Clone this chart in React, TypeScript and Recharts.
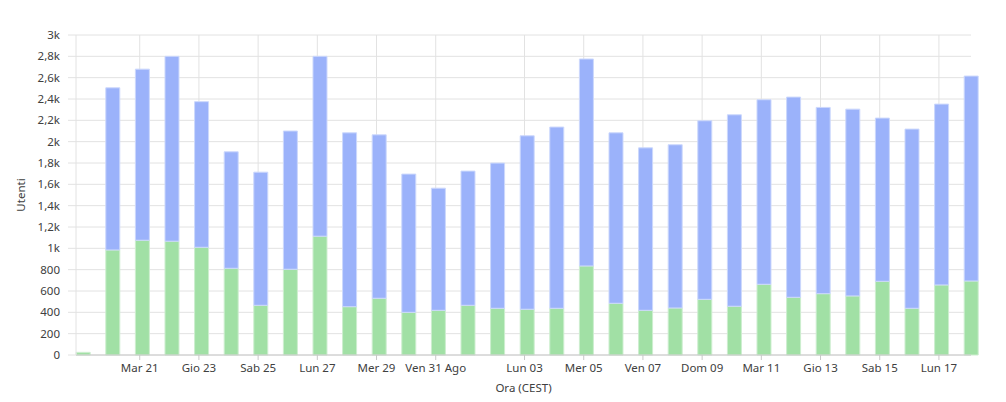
import React from 'react';
import { BarChart, Bar, XAxis, YAxis, CartesianGrid } from 'recharts';

// day index 0 = Dom 19 Ago 2018
const days = [0, 1, 2, 3, 4, 5, 6, 7, 8, 9, 10, 11, 12, 13, 14, 15, 16, 17, 18, 19, 20, 21, 22, 23, 24, 25, 26, 27, 28, 29, 30];
const greenValues = [25, 985, 1076, 1067, 1010, 813, 466, 804, 1114, 453, 532, 400, 419, 466, 438, 429, 438, 835, 485, 419, 441, 522, 457, 663, 541, 575, 554, 691, 438, 657, 694];
const blueValues = [0, 1520, 1604, 1733, 1365, 1092, 1248, 1296, 1686, 1630, 1532, 1296, 1145, 1258, 1361, 1626, 1699, 1940, 1598, 1523, 1530, 1674, 1795, 1730, 1877, 1746, 1751, 1530, 1680, 1695, 1921];

// x-axis ticks (midnight, 2h offset vs. CEST bar dates)
const tickDays = [2, 4, 6, 8, 10, 12, 15, 17, 19, 21, 23, 25, 27, 29];
const tickLabels = ['Mar 21', 'Gio 23', 'Sab 25', 'Lun 27', 'Mer 29', 'Ven 31 Ago', 'Lun 03', 'Mer 05', 'Ven 07', 'Dom 09', 'Mar 11', 'Gio 13', 'Sab 15', 'Lun 17'];
const tzShiftDays = 2 / 24;
const xDomain = [-0.236, 30];

const yTicks = [0, 200, 400, 600, 800, 1000, 1200, 1400, 1600, 1800, 2000, 2200, 2400, 2600, 2800, 3000];

const data = days.map((d, i) => ({ t: d, green: greenValues[i], blue: blueValues[i] }));
const xTicks = tickDays.map((d) => d - tzShiftDays);

const FONT = '"Noto Sans", sans-serif';
const FS = 11.5;
const TEXT = '#404040';
const GRID = '#e2e2e2';

const fmtY = (v: number) => (v < 1000 ? String(v) : String(v / 1000).replace('.', ',') + 'k');
const fmtX = (v: number) => {
  const idx = tickDays.indexOf(Math.round(v));
  return idx >= 0 ? tickLabels[idx] : '';
};

const verticalGen = (props: any) => {
  const xAxis = props.xAxis || {};
  const off = props.offset || {};
  if (xAxis.scale && typeof xAxis.scale === 'function') {
    return xTicks.map((t) => xAxis.scale(t));
  }
  if (xAxis.scale && typeof xAxis.scale.map === 'function') {
    return xTicks.map((t) => xAxis.scale.map(t));
  }
  return xTicks.map((t) => off.left + ((t - xDomain[0]) / (xDomain[1] - xDomain[0])) * off.width);
};

export default function App() {
  return (
    <div style={{ width: 990, height: 390 }}>
      <BarChart width={990} height={390} data={data} margin={{ top: 27, right: 27, left: 0, bottom: 0 }} barGap={0}>
        <CartesianGrid stroke={GRID} verticalCoordinatesGenerator={verticalGen} />
        <XAxis
          dataKey="t"
          type="number"
          domain={xDomain}
          ticks={xTicks}
          tickFormatter={fmtX}
          interval={0}
          height={43}
          tickSize={5}
          tickMargin={4}
          axisLine={{ stroke: '#c8c8c8' }}
          tickLine={{ stroke: '#c8c8c8' }}
          tick={{ fill: TEXT, fontSize: FS, fontFamily: FONT }}
          label={{
            content: (props: any) => {
              const vb = props.viewBox || {};
              return (
                <text x={vb.x + vb.width / 2} y={vb.y + 37} textAnchor="middle" fill={TEXT} fontSize={FS} fontFamily={FONT}>
                  Ora (CEST)
                </text>
              );
            },
          }}
        />
        <YAxis
          type="number"
          domain={[0, 3000]}
          ticks={yTicks}
          interval={0}
          width={68}
          tickSize={8}
          tickMargin={8}
          tickFormatter={fmtY}
          axisLine={{ stroke: GRID }}
          tickLine={{ stroke: GRID }}
          tick={{ fill: TEXT, fontSize: FS, fontFamily: FONT }}
          label={{
            content: (props: any) => {
              const vb = props.viewBox || {};
              const cx = 17;
              const cy = vb.y + vb.height / 2;
              return (
                <text x={cx} y={cy} transform={`rotate(-90 ${cx} ${cy})`} textAnchor="middle" fill={TEXT} fontSize={FS} fontFamily={FONT}>
                  Utenti
                </text>
              );
            },
          }}
        />
        <Bar dataKey="green" stackId="a" fill="#a1e0a5" stroke="#cdeecf" strokeWidth={1} barSize={14} isAnimationActive={false} />
        <Bar dataKey="blue" stackId="a" fill="#9bb2fa" stroke="#ccd8fc" strokeWidth={1} barSize={14} isAnimationActive={false} />
      </BarChart>
    </div>
  );
}
